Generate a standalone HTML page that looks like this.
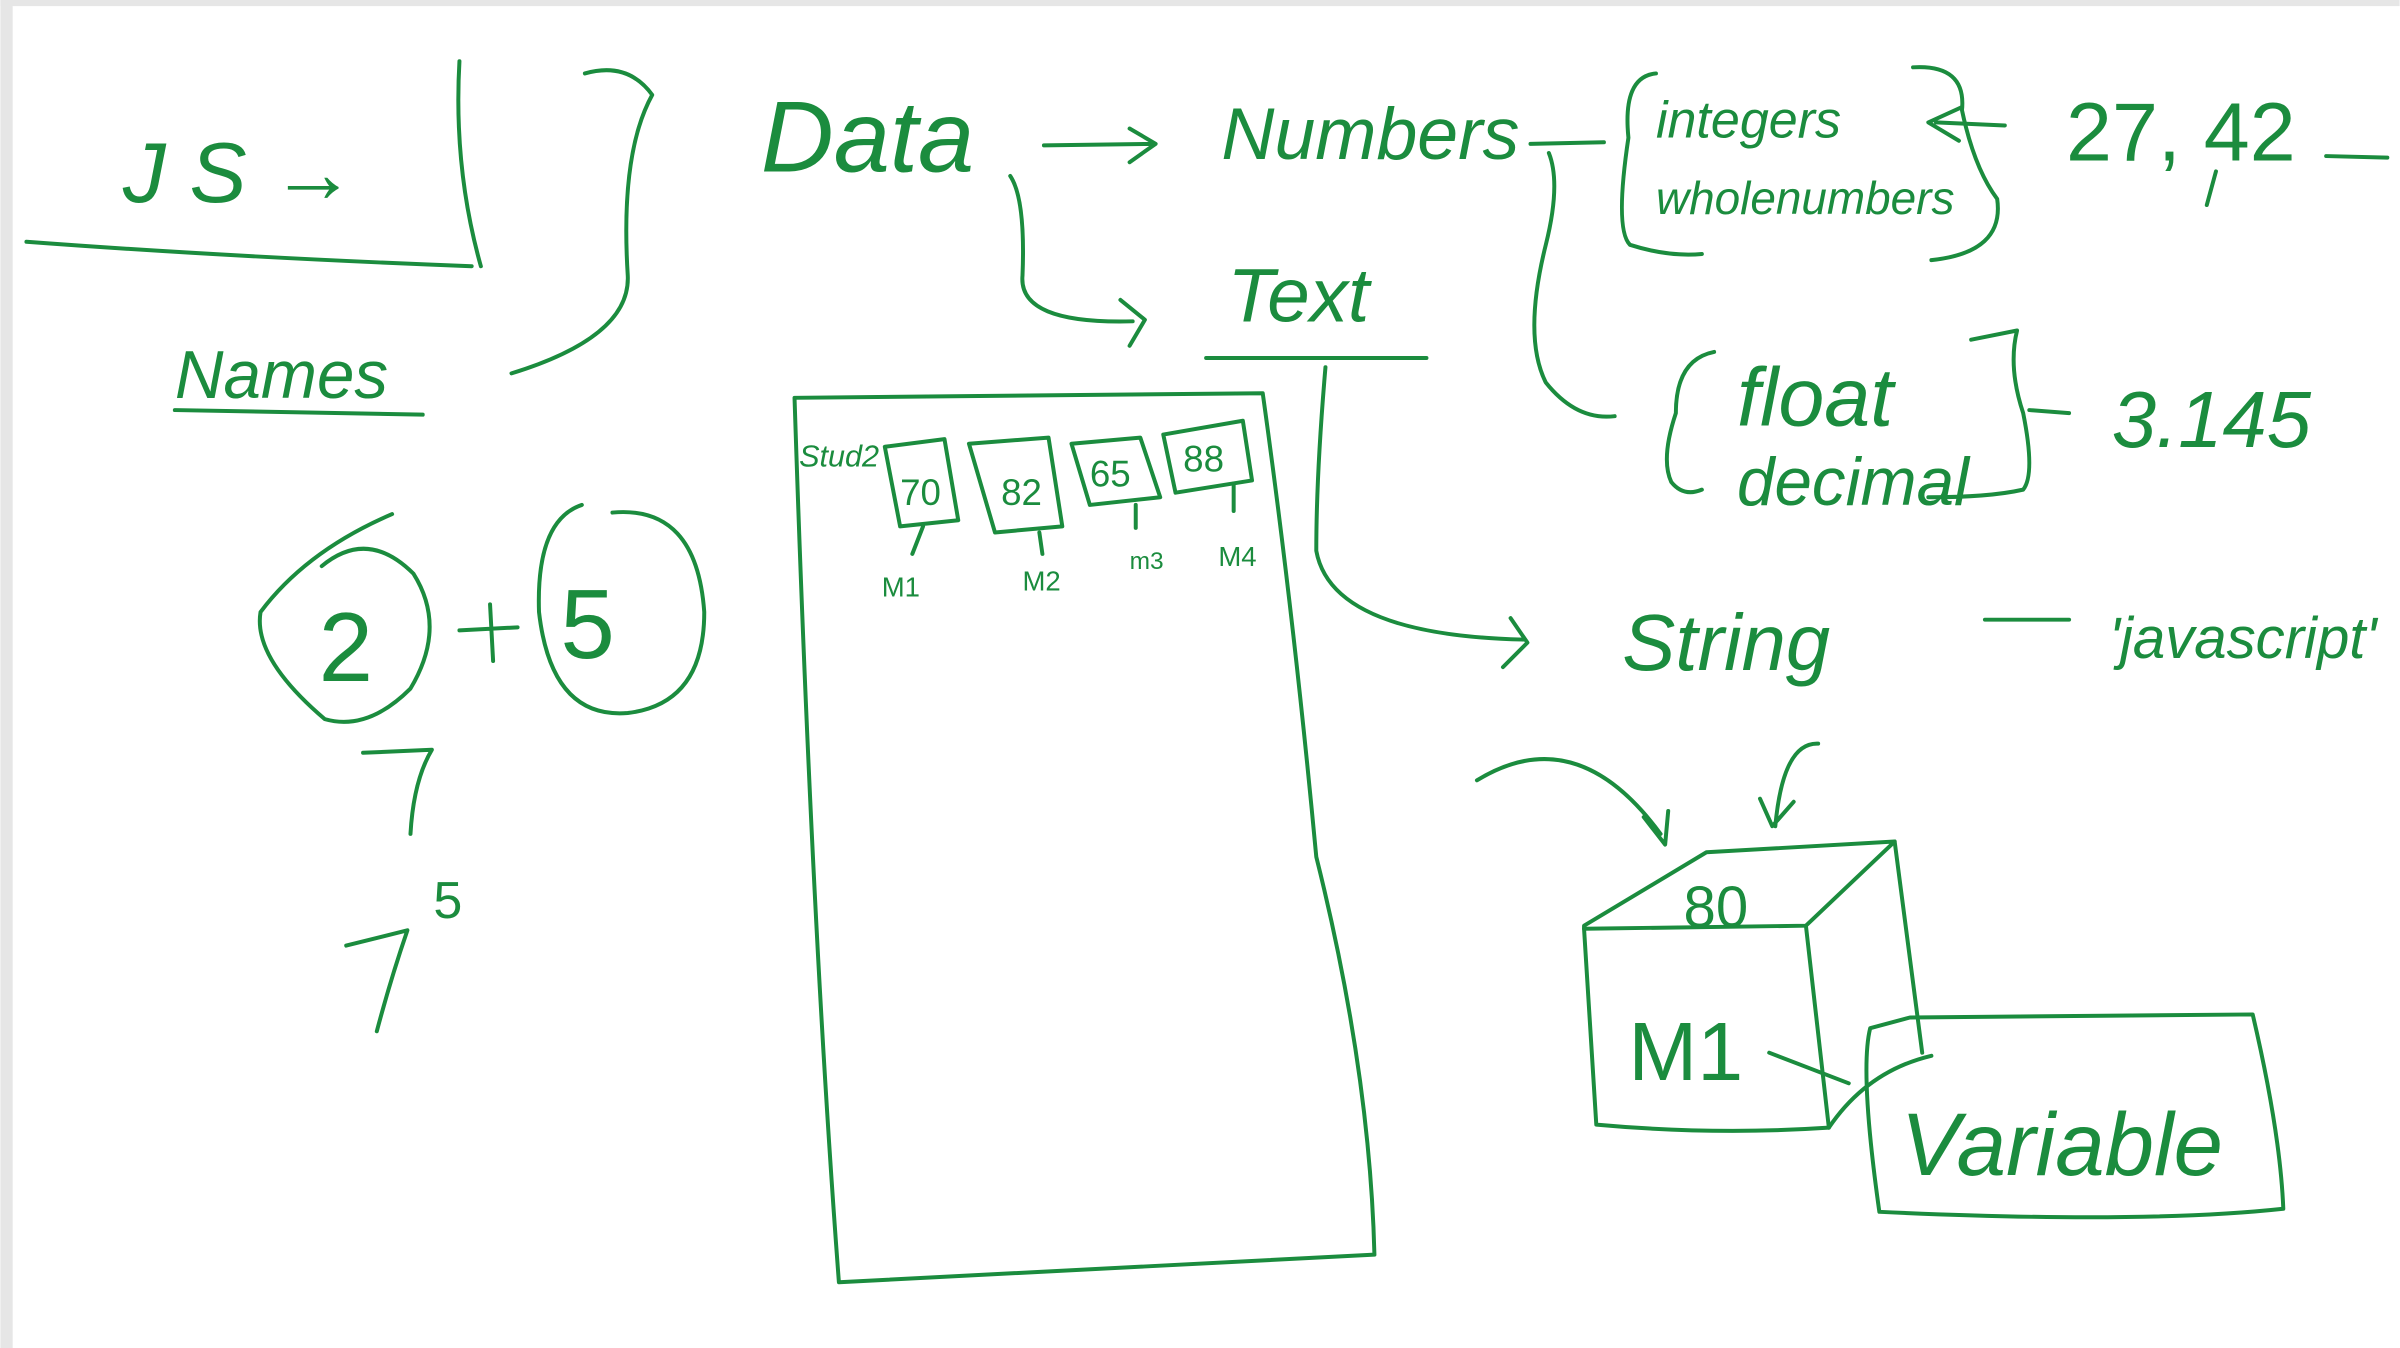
<!DOCTYPE html>
<html><head><meta charset="utf-8"><style>
html,body{margin:0;padding:0;background:#fff;}
svg{display:block}
text{font-family:"Liberation Sans",sans-serif;fill:#1b8c3e;}
</style></head><body>
<svg width="2400" height="1348" viewBox="0 0 1568 881" xmlns="http://www.w3.org/2000/svg">
<rect width="1568" height="881" fill="#fff"/>
<rect x="0" y="0" width="8" height="881" fill="#e6e6e6"/>
<rect x="0" y="0" width="1568" height="4" fill="#e6e6e6"/>
<g fill="none" stroke="#1b8c3e" stroke-width="2.6" stroke-linecap="round" stroke-linejoin="round">
<!-- JS box -->
<path d="M300 40 Q296 110 314 174"/>
<path d="M17 158 Q150 168 308 174"/>
<path d="M382 48 Q410 40 426 62 Q405 100 410 180 Q412 220 334 244"/>
<path d="M114 268 L276 271"/>
<!-- 2 + 5 -->
<path d="M256 336 Q200 360 170 400 Q165 430 212 470 Q240 478 268 450 Q292 410 270 375 Q240 345 210 370"/>
<path d="M380 330 Q350 340 352 400 Q360 470 410 466 Q460 460 460 400 Q455 330 400 335"/>
<path d="M300 412 L338 410 M320 395 L322 432"/>
<path d="M237 492 L282 490 Q270 510 268 545"/>
<path d="M226 618 L266 608 Q255 640 246 674"/>
<!-- Data arrows -->
<path d="M682 95 L754 94 M738 84 L755 94 L738 106"/>
<path d="M660 115 Q670 130 668 180 Q665 212 740 210 M732 196 L748 209 L738 226"/>
<!-- Text underline -->
<path d="M788 234 L932 234"/>
<!-- Numbers connectors -->
<path d="M1000 94 L1048 93"/>
<path d="M1012 100 Q1020 120 1010 160 Q995 220 1010 250 Q1030 275 1055 272"/>
<!-- integers bracket -->
<path d="M1082 48 Q1060 50 1064 90 Q1055 150 1065 160 Q1090 168 1112 166"/>
<path d="M1250 44 Q1285 42 1282 72 Q1290 110 1305 130 Q1310 165 1262 170"/>
<path d="M1282 70 L1260 80 L1280 92 M1265 80 L1310 82"/>
<!-- 27,42 -->
<path d="M1520 102 L1560 103"/>
<path d="M1448 112 L1442 134"/>
<!-- float bracket -->
<path d="M1120 230 Q1095 235 1095 270 Q1085 300 1092 315 Q1100 325 1112 320"/>
<path d="M1288 222 L1318 216 Q1312 240 1322 270 Q1330 310 1322 320 Q1300 325 1260 325"/>
<path d="M1326 268 L1352 270"/>
<!-- String connector -->
<path d="M866 240 Q860 310 860 360 Q870 415 995 418 M987 404 L998 420 L982 436"/>
<path d="M1297 405 L1352 405"/>
<!-- arrows to box -->
<path d="M965 510 Q1030 470 1085 545 M1074 534 L1088 552 L1090 530"/>
<path d="M1188 486 Q1165 485 1160 540 M1150 522 L1158 540 L1172 524"/>
<!-- 3D box -->
<path d="M1035 605 L1115 557 L1238 550 L1180 605 L1035 607 Z"/>
<path d="M1035 607 L1043 735 Q1120 742 1195 737 L1180 605"/>
<path d="M1238 550 L1256 688"/>
<path d="M1195 737 Q1220 700 1262 690"/>
<path d="M1156 688 L1208 708"/>
<!-- Variable box -->
<path d="M1248 665 L1472 663 Q1490 740 1492 790 Q1400 800 1228 792 Q1215 700 1222 672 Z"/>
<!-- Big rectangle -->
<path d="M519 260 L825 257 Q845 400 860 560 Q895 700 898 820 L548 838 Q530 600 519 260 Z"/>
<!-- small boxes -->
<path d="M578 292 L617 287 L626 340 L588 344 Z"/>
<path d="M633 290 L685 286 L694 344 L650 348 Z"/>
<path d="M700 290 L745 286 L758 325 L712 330 Z"/>
<path d="M760 284 L812 275 L818 314 L768 322 Z"/>
<path d="M603 344 L596 362 M679 348 L681 362 M742 330 L742 345 M806 316 L806 334"/>
</g>
<text x="80" y="132" font-size="56" font-style="italic">J S →</text>
<text x="114" y="260" font-size="44" font-style="italic">Names</text>
<text x="208" y="445" font-size="64">2</text>
<text x="366" y="430" font-size="64">5</text>
<text x="283" y="600" font-size="34">5</text>
<text x="497" y="112" font-size="66" font-style="italic">Data</text>
<text x="798" y="104" font-size="48" font-style="italic">Numbers</text>
<text x="802" y="210" font-size="50" font-style="italic">Text</text>
<text x="1082" y="90" font-size="34" font-style="italic">integers</text>
<text x="1082" y="140" font-size="30" font-style="italic">wholenumbers</text>
<text x="1350" y="105" font-size="54">27, 42</text>
<text x="1135" y="278" font-size="54" font-style="italic">float</text>
<text x="1135" y="330" font-size="44" font-style="italic">decimal</text>
<text x="1380" y="292" font-size="52" font-style="italic">3.145</text>
<text x="1060" y="438" font-size="52" font-style="italic">String</text>
<text x="1378" y="430" font-size="38" font-style="italic">'javascript'</text>
<text x="522" y="305" font-size="20" font-style="italic">Stud2</text>
<text x="588" y="330" font-size="24">70</text>
<text x="654" y="330" font-size="24">82</text>
<text x="712" y="318" font-size="24">65</text>
<text x="773" y="308" font-size="24">88</text>
<text x="576" y="390" font-size="18">M1</text>
<text x="668" y="386" font-size="18">M2</text>
<text x="738" y="372" font-size="16">m3</text>
<text x="796" y="370" font-size="18">M4</text>
<text x="1100" y="606" font-size="38">80</text>
<text x="1064" y="706" font-size="54">M1</text>
<text x="1242" y="768" font-size="58" font-style="italic">Variable</text>
</svg>
</body></html>
